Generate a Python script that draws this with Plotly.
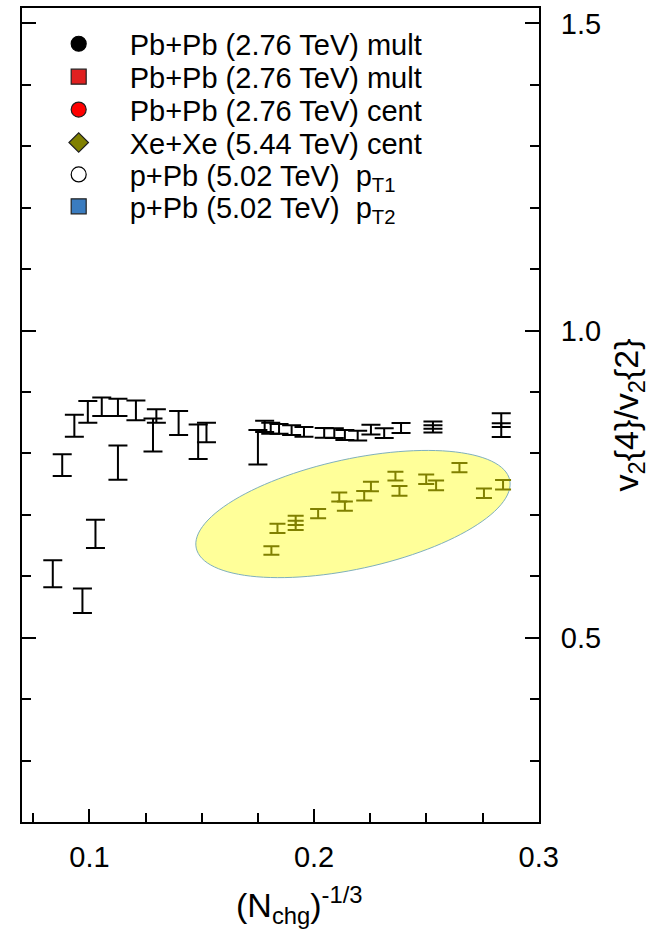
import math
import plotly.graph_objects as go

# ---- data: (N_chg)^(-1/3), v2{4}/v2{2}, symmetric uncertainty ----
pbpb_mult_x = [0.1780, 0.1807, 0.1844, 0.1900, 0.1955, 0.2045, 0.2090, 0.2137,
               0.2194, 0.2253, 0.2312, 0.2387, 0.2529, 0.2833]
pbpb_mult_y = [0.844, 0.841, 0.840, 0.838, 0.835, 0.8335, 0.833, 0.830,
               0.829, 0.8387, 0.833, 0.8414, 0.843, 0.846]
pbpb_mult_err = [0.009, 0.009, 0.008, 0.008, 0.008, 0.008, 0.008, 0.008,
                 0.008, 0.008, 0.008, 0.008, 0.009, 0.0195]

pbpb_mult2_x = [0.0933, 0.0993, 0.1055, 0.1127, 0.1207, 0.1298, 0.1397, 0.1521]
pbpb_mult2_y = [0.845, 0.8676, 0.876, 0.875, 0.870, 0.861, 0.8495, 0.834]
pbpb_mult2_err = [0.018, 0.0176, 0.015, 0.014, 0.016, 0.011, 0.0195, 0.016]

pbpb_cent_x = [0.0837, 0.0879, 0.0969, 0.1027, 0.1127, 0.1283, 0.1484, 0.1750]
pbpb_cent_y = [0.604, 0.781, 0.560, 0.669, 0.785, 0.830, 0.819, 0.810]
pbpb_cent_err = [0.022, 0.0176, 0.020, 0.023, 0.028, 0.027, 0.028, 0.028]

xexe_cent_x = [0.1810, 0.1837, 0.1918, 0.1918, 0.2018, 0.2112, 0.2137, 0.2223,
               0.2253, 0.2362, 0.2380, 0.2499, 0.2543, 0.2647, 0.2756, 0.2841]
xexe_cent_y = [0.642, 0.678, 0.691, 0.683, 0.702, 0.729, 0.714, 0.731,
               0.746, 0.763, 0.739, 0.758, 0.748, 0.777, 0.735, 0.749]
xexe_cent_err = [0.0068, 0.0075, 0.0075, 0.0075, 0.0075, 0.0075, 0.0075, 0.0078,
                 0.0078, 0.0073, 0.0078, 0.0078, 0.0078, 0.0075, 0.0078, 0.0078]

ppb_pt1_x = [0.2529]
ppb_pt1_y = [0.843]
ppb_pt1_err = [0.003]

ppb_pt2_x = [0.2833]
ppb_pt2_y = [0.846]
ppb_pt2_err = [0.003]

x_tick_vals = [0.1, 0.2, 0.3]
x_tick_text = ["0.1", "0.2", "0.3"]
y_tick_vals = [0.5, 1.0, 1.5]
y_tick_text = ["0.5", "1.0", "1.5"]

X_RANGE = [0.07, 0.3001]
Y_RANGE = [0.2, 1.525]

# ---- page geometry ----
W, H = 664, 937
M = dict(l=22, r=125, t=6, b=115)
plot_w = W - M["l"] - M["r"]
plot_h = H - M["t"] - M["b"]
px_per_x = plot_w / (X_RANGE[1] - X_RANGE[0])
px_per_y = plot_h / (Y_RANGE[1] - Y_RANGE[0])

FONT = "Liberation Sans, Arial, Helvetica, sans-serif"

fig = go.Figure()

# highlighted region around the Xe+Xe points (tilted ellipse)
ell_cx, ell_cy = 0.2173, 0.7013
ell_a_px, ell_b_px, ell_tilt = 160.4, 55.1, math.radians(12.3)
pts = []
for i in range(121):
    t = 2 * math.pi * i / 120
    dx = ell_a_px * math.cos(t) * math.cos(ell_tilt) - ell_b_px * math.sin(t) * math.sin(ell_tilt)
    dy = ell_a_px * math.cos(t) * math.sin(ell_tilt) + ell_b_px * math.sin(t) * math.cos(ell_tilt)
    pts.append((ell_cx + dx / px_per_x, ell_cy + dy / px_per_y))
path = "M " + " L ".join(f"{x:.6f},{y:.6f}" for x, y in pts) + " Z"
fig.add_shape(type="path", path=path, xref="x", yref="y", layer="below",
              fillcolor="#FFFF99", line=dict(color="#7FB0BC", width=1))


def bars(x, y, err, color, cap):
    fig.add_trace(go.Scatter(
        x=x, y=y, mode="markers", showlegend=False,
        marker=dict(opacity=0, size=6),
        error_y=dict(type="data", array=err, visible=True,
                     color=color, thickness=2, width=cap),
        hoverinfo="x+y",
    ))


bars(pbpb_mult_x, pbpb_mult_y, pbpb_mult_err, "black", 9.5)
bars(pbpb_mult2_x, pbpb_mult2_y, pbpb_mult2_err, "black", 9.5)
bars(pbpb_cent_x, pbpb_cent_y, pbpb_cent_err, "black", 9.5)
bars(ppb_pt1_x, ppb_pt1_y, ppb_pt1_err, "black", 9.5)
bars(ppb_pt2_x, ppb_pt2_y, ppb_pt2_err, "black", 9.5)
bars(xexe_cent_x, xexe_cent_y, xexe_cent_err, "#808000", 8)

# legend entries, one small legend box per row so the row pitch can be set
legend_items = [
    ("Pb+Pb (2.76 TeV) mult", "circle", "black", "black"),
    ("Pb+Pb (2.76 TeV) mult", "square", "#E02020", "#202020"),
    ("Pb+Pb (2.76 TeV) cent", "circle", "#FF0000", "#202020"),
    ("Xe+Xe (5.44 TeV) cent", "diamond", "#808000", "#202020"),
    ("p+Pb (5.02 TeV)  p<sub>T1</sub>", "circle", "white", "black"),
    ("p+Pb (5.02 TeV)  p<sub>T2</sub>", "square", "#3A7CC0", "#202020"),
]
legend_row_px = [42, 75, 108, 141, 173, 205]
legend_layouts = {}
for i, ((name, sym, fill, edge), row_y) in enumerate(zip(legend_items, legend_row_px)):
    key = "legend" if i == 0 else f"legend{i + 1}"
    fig.add_trace(go.Scatter(
        x=[None], y=[None], mode="markers", name=name, legend=key,
        marker=dict(symbol=sym, color=fill, size=15,
                    line=dict(color=edge, width=1.2)),
    ))
    legend_layouts[key] = dict(
        x=0.011, y=1 - (row_y - M["t"]) / plot_h, xanchor="left", yanchor="middle",
        bgcolor="rgba(0,0,0,0)", font=dict(size=29), itemwidth=92,
    )

fig.update_layout(
    width=W, height=H, margin=M,
    paper_bgcolor="white", plot_bgcolor="white",
    font=dict(family=FONT, size=29, color="black"),
    showlegend=True,
    annotations=[dict(
        text="(N<sub>chg</sub>)<sup>-1/3</sup>", xref="paper", yref="paper",
        x=0.537, y=-0.0705, xanchor="center", yanchor="top",
        showarrow=False, font=dict(size=34),
    )],
    **legend_layouts,
)

fig.update_xaxes(
    range=X_RANGE, showgrid=False, zeroline=False,
    showline=True, linecolor="black", linewidth=2, mirror=True,
    ticks="inside", ticklen=13, tickwidth=1.5, tickcolor="black",
    tickvals=x_tick_vals, ticktext=x_tick_text, ticklabelstandoff=8,
    minor=dict(ticks="inside", ticklen=9, tickwidth=1.5, tickcolor="black",
               dtick=0.025, tick0=0, showgrid=False),
)
fig.update_yaxes(
    range=Y_RANGE, side="right", showgrid=False, zeroline=False,
    showline=True, linecolor="black", linewidth=2, mirror="ticks",
    ticks="inside", ticklen=14, tickwidth=1.5, tickcolor="black",
    tickvals=y_tick_vals, ticktext=y_tick_text, ticklabelstandoff=14,
    minor=dict(ticks="inside", ticklen=9, tickwidth=1.5, tickcolor="black",
               dtick=0.1, tick0=0, showgrid=False),
    title=dict(text="v<sub>2</sub>{4}/v<sub>2</sub>{2}", font=dict(size=34),
               standoff=14),
)

fig.write_html("out.html")
